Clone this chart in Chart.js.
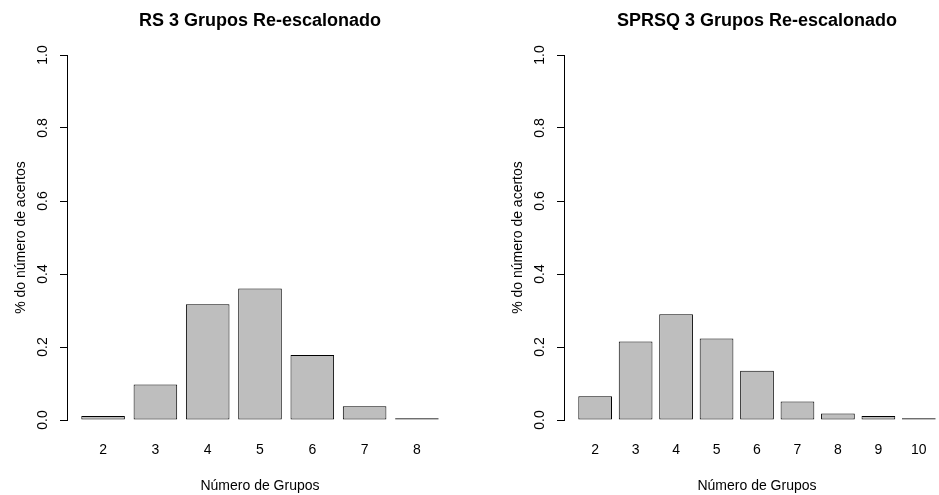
<!DOCTYPE html>
<html>
<head>
<meta charset="utf-8">
<script src="https://cdn.jsdelivr.net/npm/chart.js@4.4.1/dist/chart.umd.min.js"></script>
<style>
  html, body { margin: 0; padding: 0; background: #fff; overflow: hidden; }
  .panel { position: absolute; top: 0; width: 520px; height: 495px; }
</style>
</head>
<body>
<div class="panel" style="left:0"><canvas id="rs-chart" width="520" height="495"></canvas></div>
<div class="panel" style="left:497px"><canvas id="sprsq-chart" width="520" height="495"></canvas></div>
<script>
const rsGroups = ['2', '3', '4', '5', '6', '7', '8'];
const rsShare = [0.011, 0.097, 0.317, 0.360, 0.178, 0.038, 0.005];

const sprsqGroups = ['2', '3', '4', '5', '6', '7', '8', '9', '10'];
const sprsqShare = [0.065, 0.215, 0.290, 0.223, 0.135, 0.051, 0.018, 0.011, 0.005];

const yTicks = [0, 0.2, 0.4, 0.6, 0.8, 1.0];
const xTitle = 'Número de Grupos';
const yTitle = '% do número de acertos';

const FONT = '"Liberation Sans", Arial, Helvetica, sans-serif';
Chart.defaults.font.family = FONT;
Chart.defaults.font.size = 14;
Chart.defaults.color = '#000';

// Plot region inside each 520px canvas: 67px left margin, 386px wide.
const PLOT_LEFT = 67;
const PLOT_WIDTH = 386;
const CANVAS_WIDTH = 520;

// barplot() puts bar i at 0.7 + 1.2*i (width 1, space 0.2) and pads the range by 4%.
function barCenters(n) {
  return Array.from({ length: n }, (_, i) => 0.7 + 1.2 * i);
}

// Rotated ylab, drawn by hand so it sits where R's mtext puts it.
const yLabelPlugin = {
  id: 'yLabel',
  afterDraw(chart, args, opts) {
    const { ctx, chartArea } = chart;
    ctx.save();
    ctx.font = `14px ${FONT}`;
    ctx.fillStyle = '#000';
    ctx.textAlign = 'center';
    ctx.textBaseline = 'middle';
    ctx.translate(opts.x, (chartArea.top + chartArea.bottom) / 2);
    ctx.rotate(-Math.PI / 2);
    ctx.fillText(opts.text, 0, 0);
    ctx.restore();
  },
};

function renderBarplot(canvasId, title, groups, share) {
  const centers = barCenters(groups.length);
  const span = 1.2 * groups.length - 0.2;
  const xMin = 0.2 - 0.04 * span;
  const xMax = 1.2 * groups.length + 0.04 * span;
  // Let the x scale run on into the right margin so the title centres on the plot region.
  const xEnd = xMin + (xMax - xMin) * (CANVAS_WIDTH - PLOT_LEFT) / PLOT_WIDTH;

  const ctx = document.getElementById(canvasId).getContext('2d');
  return new Chart(ctx, {
    type: 'bar',
    data: {
      datasets: [
        {
          data: share.map((v, i) => ({ x: centers[i], y: v })),
          backgroundColor: '#bebebe',
          borderColor: '#000',
          borderWidth: 1,
          borderSkipped: false,
          categoryPercentage: 1,
          barPercentage: 1 / 1.2,
        },
      ],
    },
    options: {
      responsive: false,
      animation: false,
      layout: { padding: 0 },
      plugins: {
        legend: { display: false },
        tooltip: { enabled: false },
        title: {
          display: true,
          text: title,
          color: '#000',
          font: { size: 18, weight: 'bold' },
          padding: { top: 10, bottom: 23.4 },
        },
        yLabel: { text: yTitle, x: 21.5 },
      },
      scales: {
        x: {
          type: 'linear',
          min: xMin,
          max: xEnd,
          offset: false,
          afterBuildTicks: (s) => { s.ticks = centers.map((v) => ({ value: v })); },
          afterFit: (s) => { s.height = 75; },
          ticks: {
            autoSkip: false,
            maxRotation: 0,
            padding: 22,
            callback: (v, i) => groups[i],
          },
          grid: { display: false, drawTicks: false },
          border: { display: false },
          // axis title is centred on the whole x scale, so draw it by hand below instead
          title: { display: false },
        },
        y: {
          min: 0,
          max: 1,
          afterBuildTicks: (s) => { s.ticks = yTicks.map((v) => ({ value: v })); },
          afterFit: (s) => { s.width = PLOT_LEFT; },
          ticks: {
            minRotation: 90,
            maxRotation: 90,
            crossAlign: 'center',
            padding: 7,
            callback: (v) => Number(v).toFixed(1),
          },
          grid: { drawOnChartArea: false, drawTicks: true, tickLength: 7, color: '#000', tickColor: '#000' },
          border: { display: true, color: '#000', width: 1 },
        },
      },
    },
    plugins: [
      yLabelPlugin,
      {
        id: 'xLabel',
        afterDraw(chart) {
          const { ctx } = chart;
          ctx.save();
          ctx.font = `14px ${FONT}`;
          ctx.fillStyle = '#000';
          ctx.textAlign = 'center';
          ctx.textBaseline = 'middle';
          ctx.fillText(xTitle, PLOT_LEFT + PLOT_WIDTH / 2, 486);
          ctx.restore();
        },
      },
    ],
  });
}

renderBarplot('rs-chart', 'RS 3 Grupos Re-escalonado', rsGroups, rsShare);
renderBarplot('sprsq-chart', 'SPRSQ 3 Grupos Re-escalonado', sprsqGroups, sprsqShare);
</script>
</body>
</html>
